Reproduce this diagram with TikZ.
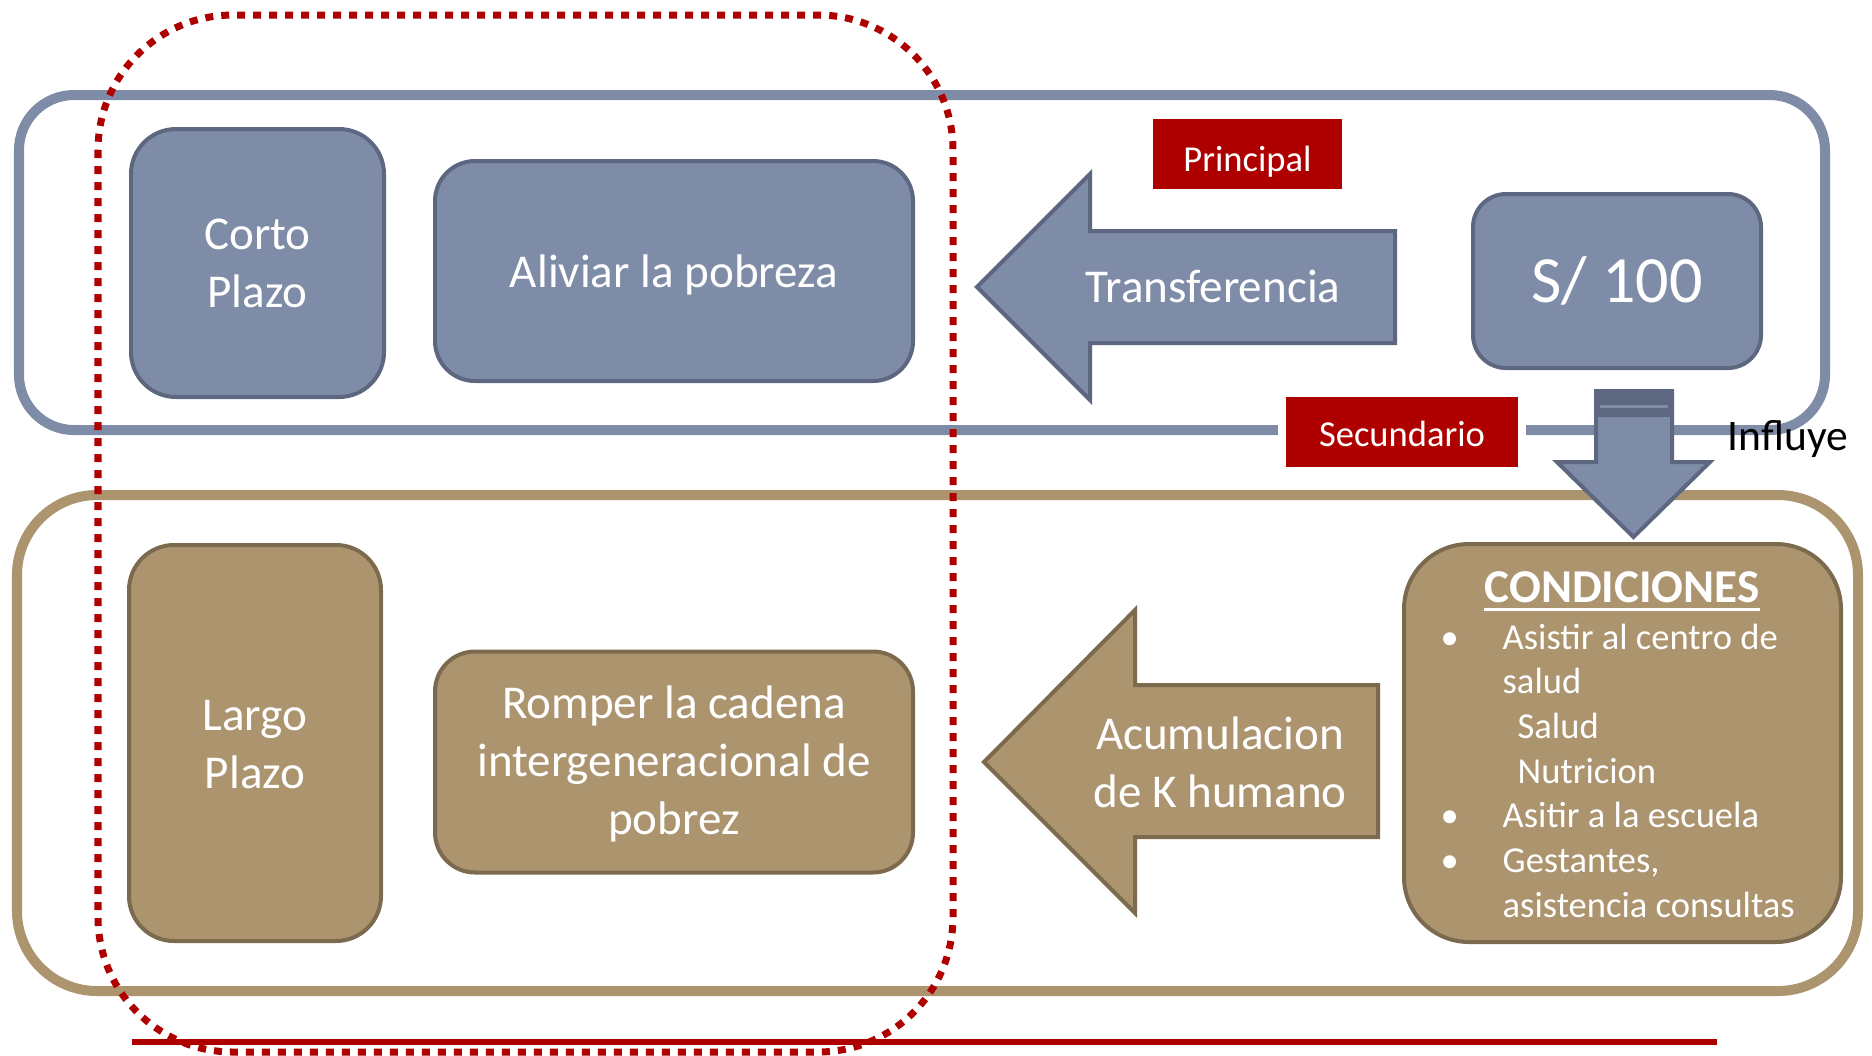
\documentclass[tikz,border=0pt]{standalone}
\usepackage{fontspec}
\setmainfont{Carlito}

\definecolor{slate}{RGB}{127,140,167}
\definecolor{slatedark}{RGB}{93,104,128}
\definecolor{sand}{RGB}{172,148,111}
\definecolor{sanddark}{RGB}{124,106,79}
\definecolor{tagred}{RGB}{175,0,0}

\tikzset{
    bluebox/.style={draw=slatedark, fill=slate, line width=0.04cm, text=white, align=center, inner sep=0pt,
        font=\fontsize{13.4}{16.4}\selectfont},
    brownbox/.style={draw=sanddark, fill=sand, line width=0.04cm, text=white, align=center, inner sep=0pt,
        font=\fontsize{13.4}{16.4}\selectfont},
    tag/.style={fill=tagred, draw=white, line width=0.08cm, text=white, inner sep=0pt, minimum height=0.78cm,
        text depth=0pt, font=\fontsize{10.4}{12.5}\selectfont},
    arrowtext/.style={text=white, align=center, inner sep=0pt, font=\fontsize{13.4}{16.4}\selectfont}
}

\begin{document}
\begin{tikzpicture}

    \useasboundingbox (0,0) rectangle (18.72,-10.55);

    \draw[slate, line width=0.1cm, rounded corners=0.55cm] (0.19,-0.95) rectangle (18.25,-4.30);
    \draw[sand, line width=0.1cm, rounded corners=0.8cm] (0.17,-4.95) rectangle (18.58,-9.91);

    % corto plazo
    \node[bluebox, minimum width=2.53cm, minimum height=2.68cm, rounded corners=0.45cm,
        text height=0.88cm, text depth=0pt] (corto) at (2.575,-2.63) {Corto\\Plazo};
    \node[bluebox, minimum width=4.78cm, minimum height=2.20cm, rounded corners=0.4cm,
        text height=0.32cm, text depth=0pt] (aliviar) at (6.74,-2.71) {Aliviar la pobreza};
    \node[bluebox, minimum width=2.88cm, minimum height=1.74cm, rounded corners=0.33cm,
        font=\fontsize{18.8}{22}\selectfont] (soles) at (16.17,-2.81) {S/ 100};

    \draw[fill=slate, draw=slatedark, line width=0.04cm] (9.77,-2.87) -- (10.90,-1.74) -- (10.90,-2.31) -- (13.95,-2.31)
        -- (13.95,-3.43) -- (10.90,-3.43) -- (10.90,-4.00) -- cycle;
    \node[arrowtext, anchor=base] (transf) at (12.13,-3.02) {Transferencia};

    \node[tag, minimum width=1.97cm, text height=0.35cm] (principal) at (12.475,-1.54) {Principal};
    \node[tag, minimum width=2.40cm, text height=0.28cm] (secundario) at (14.02,-4.32) {Secundario};

    % largo plazo
    \node[brownbox, minimum width=2.52cm, minimum height=3.96cm, rounded corners=0.45cm,
        text height=0.90cm, text depth=0pt] (largo) at (2.55,-7.43) {Largo\\Plazo};
    \node[brownbox, minimum width=4.78cm, minimum height=2.21cm, rounded corners=0.4cm,
        text height=1.44cm, text depth=0pt] (romper) at (6.74,-7.62) {Romper la cadena\\intergeneracional de\\pobrez};

    \draw[fill=sand, draw=sanddark, line width=0.04cm] (9.84,-7.62) -- (11.35,-6.10) -- (11.35,-6.85) -- (13.78,-6.85)
        -- (13.78,-8.37) -- (11.35,-8.37) -- (11.35,-9.13) -- cycle;
    \node[arrowtext] (acum) at (12.20,-7.625) {Acumulacion\\de K humano};

    \node[brownbox, minimum width=4.37cm, minimum height=3.98cm, rounded corners=0.65cm] (cond) at (16.225,-7.43) {};
    \node[text=white, inner sep=0pt, anchor=base, font=\fontsize{13.4}{16.4}\selectfont\bfseries] (condtitle) at (16.22,-6.02) {CONDICIONES};
    \draw[white, line width=0.035cm] ([yshift=-0.075cm]condtitle.base west) -- ([yshift=-0.075cm]condtitle.base east);
    \node[text=white, inner sep=0pt, anchor=base west, font=\fontsize{10.4}{12.72}\selectfont] (condlist) at (14.40,-6.49)
        {\begin{tabular}[t]{@{}p{0.62cm}@{}l@{}}
            • & Asistir al centro de\\
              & salud\\
              & \hspace{0.15cm}Salud\\
              & \hspace{0.15cm}Nutricion\\
            • & Asitir a la escuela\\
            • & Gestantes,\\
              & asistencia consultas
        \end{tabular}};

    % influye
    \draw[fill=slate, draw=slatedark, line width=0.04cm] (15.96,-3.91) -- (16.72,-3.91) -- (16.72,-4.62) -- (17.10,-4.62)
        -- (16.335,-5.37) -- (15.57,-4.62) -- (15.96,-4.62) -- cycle;
    \fill[slatedark] (15.98,-3.93) rectangle (16.70,-4.17);
    \draw[slate, line width=0.03cm] (16.00,-4.06) -- (16.68,-4.06);
    \node[anchor=base west, inner sep=0pt, font=\fontsize{12.4}{15}\selectfont] (influye) at (17.27,-4.50) {Influye};

    \draw[tagred, line width=0.07cm, dash pattern=on 0.08cm off 0.08cm, rounded corners=1.35cm] (0.98,-0.15) rectangle (9.53,-10.52);
    \draw[tagred, line width=0.06cm] (1.32,-10.42) -- (17.17,-10.42);

\end{tikzpicture}
\end{document}
